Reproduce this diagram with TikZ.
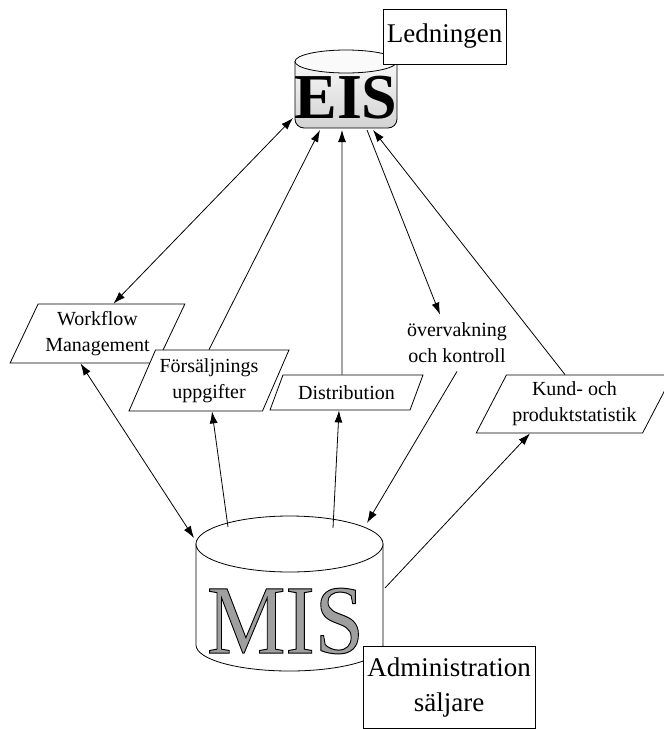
\documentclass[tikz,border=0pt]{standalone}
\usepackage{fontspec}
\setmainfont{Liberation Serif}
\usetikzlibrary{shapes.geometric,arrows.meta}
\font\misfont="Liberation Serif:embolden=1" at 98pt

\begin{document}
\begin{tikzpicture}[x=1pt,y=-1pt,line width=0.8pt,
	lbl/.style={font=\fontsize{20}{26}\selectfont, align=center},
	para/.style={trapezium, draw, fill=white, trapezium stretches=true, lbl, inner sep=0pt},
	bigbox/.style={draw, fill=white, font=\fontsize{27}{35}\selectfont, align=center, inner sep=0pt},
	link/.style={-{Latex[length=12pt,width=8pt]}},
	both/.style={{Latex[length=12pt,width=8pt]}-{Latex[length=12pt,width=8pt]}}]
			\useasboundingbox (0,0) rectangle (664,729);

			\draw [top color=gray!6, bottom color=gray!35] (295,61.5) -- (295,119) arc (180:90:9) -- (388,128) arc (90:0:9) -- (397,61.5) -- cycle;
			\draw [fill=gray!4] (346,61.5) ellipse [x radius=51, y radius=11.5];
			\node [anchor=base, inner sep=0pt, font=\bfseries\fontsize{64}{64}\selectfont](eis) at (346,118) {EIS};

			\draw [fill=white] (196,544) -- (196,645) arc (180:0:93.5 and 26) -- (383,544) -- cycle;
			\draw [fill=white] (289.5,544) ellipse [x radius=93.5, y radius=28];
			\node [anchor=base, inner sep=0pt](mis) at (285.5,653) {\scalebox{0.9}[1]{\misfont\color{gray!75}\special{pdf:literal direct 0 G}MIS}};

			\coordinate (eis-wf) at (293,118);
			\coordinate (eis-fo) at (320,130);
			\coordinate (eis-di) at (342,130);
			\coordinate (eis-ov) at (367,130);
			\coordinate (eis-ku) at (373,130);
			\coordinate (mis-wf) at (194,538);
			\coordinate (mis-fo) at (228,527);
			\coordinate (mis-di) at (333,528);
			\coordinate (mis-ov) at (367,523);
			\coordinate (mis-ku) at (385,588);

			\node [bigbox, minimum width=123pt, minimum height=55pt](led) at (444.5,36.5) {Ledningen};
			\node [bigbox, minimum width=172pt, minimum height=82pt](adm) at (449,687) {Administration\\säljare};

			\node [para, trapezium left angle=61, trapezium right angle=119, minimum width=175pt, minimum height=59pt](wf) at (97.5,333.5) {Workflow\\Management};
			\node [para, trapezium left angle=61, trapezium right angle=119, minimum width=160pt, minimum height=61pt](fo) at (209,380.5) {Försäljnings\\uppgifter};
			\node [para, trapezium left angle=55, trapezium right angle=125, minimum width=153pt, minimum height=35pt](di) at (346.5,392.5) {Distribution};
			\node [para, trapezium left angle=58, trapezium right angle=122, minimum width=197pt, minimum height=58pt](ku) at (574.5,404) {Kund- och\\produktstatistik};
			\node [lbl, inner sep=8pt](ov) at (457,343) {övervakning\\och kontroll};

			\draw [both](eis-wf) -- ([xshift=16pt]wf.north);
			\draw [link](fo.north) -- (eis-fo);
			\draw [link]([xshift=-4.5pt]di.north) -- (eis-di);
			\draw [link](eis-ov) -- ([xshift=-17pt]ov.north);
			\draw [link]([xshift=-9.5pt]ku.north) -- (eis-ku);

			\draw [both]([xshift=-17pt]wf.south) -- (mis-wf);
			\draw [link](mis-fo) -- ([xshift=3pt]fo.south);
			\draw [link](mis-di) -- ([xshift=-7.5pt]di.south);
			\draw [link](ov.south) -- (mis-ov);
			\draw [link](mis-ku) -- ([xshift=-44.5pt]ku.south);

		\end{tikzpicture}
\end{document}
